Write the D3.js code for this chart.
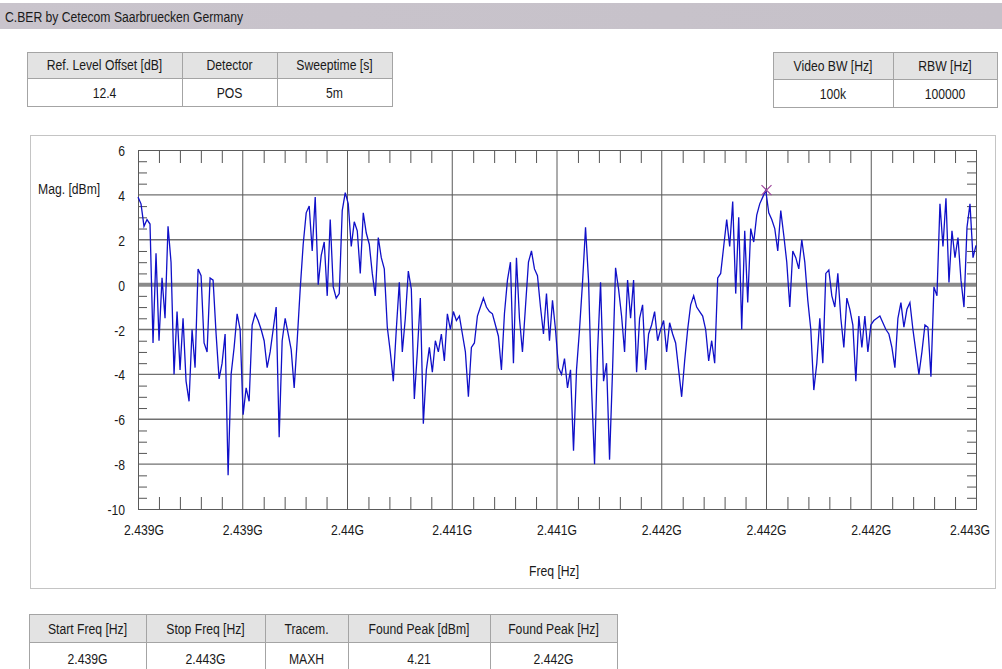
<!DOCTYPE html>
<html><head><meta charset="utf-8">
<script src="https://cdn.jsdelivr.net/npm/d3@7"></script>
<style>
html,body{margin:0;padding:0;background:#fff;}
svg{display:block;}
text{font-family:"Liberation Sans",Arial,sans-serif;fill:#1a1a1a;}
</style></head>
<body>
<svg id="c" width="1002" height="669"></svg>
<script>
// ---------------- data ----------------
const title = "C.BER by Cetecom Saarbruecken Germany";
const topLeftHeaders = ["Ref. Level Offset [dB]", "Detector", "Sweeptime [s]"];
const topLeftValues = ["12.4", "POS", "5m"];
const topRightHeaders = ["Video BW [Hz]", "RBW [Hz]"];
const topRightValues = ["100k", "100000"];
const bottomHeaders = ["Start Freq [Hz]", "Stop Freq [Hz]", "Tracem.", "Found Peak [dBm]", "Found Peak [Hz]"];
const bottomValues = ["2.439G", "2.443G", "MAXH", "4.21", "2.442G"];

const freqStartMHz = 2439;
const freqStopMHz = 2443;
const xTickValuesMHz = [2439, 2439.5, 2440, 2440.5, 2441, 2441.5, 2442, 2442.5, 2443];
const xTickLabels = ["2.439G", "2.439G", "2.44G", "2.441G", "2.441G", "2.442G", "2.442G", "2.442G", "2.443G"];
const yTickValues = [6, 4, 2, 0, -2, -4, -6, -8, -10];
const yTickLabels = ["6", "4", "2", "0", "-2", "-4", "-6", "-8", "-10"];
const yAxisTitle = "Mag. [dBm]";
const xAxisTitle = "Freq [Hz]";
const peakFreqMHz = 2442.0;
const peakMag = 4.21;

// trace magnitude (dBm), equally spaced from start to stop frequency
const traceMag = [
 3.9, 3.6, 2.6, 2.9, 2.7, -2.6, 1.4, -2.5, 0.3, -1.5,
 2.6, 1.0, -4.0, -1.2, -3.8, -1.5, -4.3, -5.2, -2.0, -3.7,
 0.7, 0.4, -2.6, -3.0, 0.3, 0.2, -2.2, -4.2, -3.5, -2.2,
 -8.5, -4.0, -2.8, -1.3, -2.0, -5.8, -4.6, -5.2, -1.8, -1.3,
 -1.6, -2.0, -2.5, -3.7, -3.0, -2.0, -1.0, -6.8, -2.5, -1.5,
 -2.2, -2.9, -4.6, -2.5, -0.2, 1.8, 3.2, 3.5, 1.5, 3.9,
 0.0, 1.3, 1.9, -0.5, 2.9, -0.1, -0.6, -0.4, 3.3, 4.1,
 3.6, 1.7, 2.8, 2.4, 0.5, 3.2, 2.3, 1.8, 0.5, -0.5,
 2.1, 1.2, 0.7, -1.9, -3.0, -4.3, -2.0, 0.1, -3.0, -1.5,
 0.6, -0.2, -5.1, -3.0, -0.6, -6.2, -3.8, -2.8, -3.9, -2.5,
 -3.0, -2.2, -3.4, -1.3, -2.0, -1.2, -1.6, -1.4, -2.2, -3.0,
 -5.0, -2.8, -2.6, -1.4, -1.0, -0.6, -1.0, -1.2, -1.3, -1.8,
 -2.3, -3.8, -1.3, 0.2, 1.0, -3.5, 1.2, -1.5, -3.0, -1.0,
 1.0, 1.5, 0.7, 0.4, -1.0, -2.2, -0.4, -2.5, -0.7, -2.0,
 -3.7, -4.0, -3.3, -4.6, -3.8, -7.4, -3.8, -2.0, 0.1, 2.55,
 0.2, -4.6, -8.0, -3.0, 0.1, -4.3, -3.5, -7.8, -3.8, 0.75,
 -0.2, -1.4, -3.0, 0.2, -1.5, 0.2, -3.9, -1.5, -0.9, -3.8,
 -2.2, -1.8, -1.2, -2.5, -2.0, -1.6, -3.0, -1.7, -2.2, -2.6,
 -3.8, -5.0, -3.4, -2.0, -0.9, -0.5, -1.0, -1.2, -1.4, -2.0,
 -3.4, -2.5, -3.5, 0.3, 0.5, 1.7, 2.9, 1.7, 3.7, -0.4,
 3.0, -2.0, 2.4, -0.8, 2.5, 1.9, 3.1, 3.6, 3.9, 4.21,
 3.2, 2.9, 2.5, 1.5, 3.3, 2.2, 1.0, -1.0, 1.5, 1.2,
 0.7, 2.0, 1.0, -0.7, -2.0, -4.7, -3.5, -1.5, -3.5, 0.5,
 0.65, -0.5, -1.0, 0.5, -1.5, -2.8, -0.6, -1.1, -1.8, -4.3,
 -1.4, -2.8, -1.4, -3.0, -1.8, -1.6, -1.5, -1.4, -1.7, -2.0,
 -2.2, -2.8, -3.7, -1.5, -0.8, -1.9, -1.1, -0.8, -2.0, -3.0,
 -4.0, -3.0, -1.8, -1.9, -4.1, -0.1, -0.5, 3.6, 1.7, 3.85,
 0.1, 2.4, 1.2, 2.1, 0.2, -1.0, 2.55, 3.6, 1.2, 1.75
];

// ---------------- drawing ----------------
const SX = 0.87; // horizontal squeeze of the original typeface
const svg = d3.select("#c");

function txt(g, x, y, s, anchor, size) {
  return g.append("text")
    .attr("transform", `translate(${x},${y}) scale(${SX},1)`)
    .attr("text-anchor", anchor || "middle")
    .style("font-size", (size || 14) + "px")
    .text(s);
}

// header bar
const grad = svg.append("defs").append("linearGradient").attr("id", "bar").attr("x1", 0).attr("x2", 1);
grad.append("stop").attr("offset", 0).attr("stop-color", "#c9c4cc");
grad.append("stop").attr("offset", 1).attr("stop-color", "#c6c1c9");
svg.append("rect").attr("x", 0).attr("y", 3).attr("width", 1002).attr("height", 26).attr("fill", "url(#bar)");
txt(svg, 5, 22, title, "start");

// tables
function table(edges, rows, headers, values) {
  const g = svg.append("g");
  headers.forEach((h, i) => {
    const x0 = edges[i], x1 = edges[i + 1];
    g.append("rect").attr("x", x0 + 0.5).attr("y", rows[0] + 0.5).attr("width", x1 - x0).attr("height", rows[1] - rows[0])
      .attr("fill", "#e3e3e3").attr("stroke", "#a4a4a4");
    g.append("rect").attr("x", x0 + 0.5).attr("y", rows[1] + 0.5).attr("width", x1 - x0).attr("height", rows[2] - rows[1])
      .attr("fill", "#fff").attr("stroke", "#a4a4a4");
    const cx = (x0 + x1) / 2;
    txt(g, cx, rows[1] - 8, h);
    txt(g, cx, rows[2] - 8, values[i]);
  });
}
table([27, 182, 277, 392], [52, 78, 106], topLeftHeaders, topLeftValues);
table([773, 893, 997], [52, 79, 107], topRightHeaders, topRightValues);
table([29, 146, 265, 348, 490, 617], [614, 642, 672], bottomHeaders, bottomValues);

// chart panel
svg.append("rect").attr("x", 30.5).attr("y", 135.5).attr("width", 965).attr("height", 453)
  .attr("fill", "#fff").attr("stroke", "#c4c4c4");

const L = 138, R = 976, T = 150, B = 509;
const x = d3.scaleLinear().domain([freqStartMHz, freqStopMHz]).range([L, R]);
const y = d3.scaleLinear().domain([-10, 6]).range([B, T]);
const plot = svg.append("g");

// horizontal grid
plot.selectAll("line.hg").data(yTickValues.filter(v => v !== 0 && v !== 6 && v !== -10)).join("line")
  .attr("x1", L).attr("x2", R).attr("y1", d => y(d)).attr("y2", d => y(d))
  .attr("stroke", "#707070").attr("stroke-width", 1.4);
// vertical grid
plot.selectAll("line.vg").data(xTickValuesMHz.slice(1, -1)).join("line")
  .attr("x1", d => x(d)).attr("x2", d => x(d)).attr("y1", T).attr("y2", B)
  .attr("stroke", "#5a5a5a").attr("stroke-width", 1);
// zero line
plot.append("line").attr("x1", L).attr("x2", R).attr("y1", y(0)).attr("y2", y(0))
  .attr("stroke", "#8a8a8a").attr("stroke-width", 4);

// minor ticks
const xMinor = [];
for (let i = 0; i < xTickValuesMHz.length - 1; i++)
  for (let k = 1; k < 5; k++) xMinor.push(xTickValuesMHz[i] + k * (xTickValuesMHz[i + 1] - xTickValuesMHz[i]) / 5);
const yMinor = [];
for (let i = 0; i < yTickValues.length - 1; i++)
  for (let k = 1; k < 4; k++) yMinor.push(yTickValues[i] + k * (yTickValues[i + 1] - yTickValues[i]) / 4);

plot.append("g").attr("transform", `translate(0,${T})`)
  .call(d3.axisBottom(x).tickValues(xMinor).tickSize(13).tickFormat(""))
  .call(g => g.select(".domain").remove()).selectAll("line").attr("stroke", "#555");
plot.append("g").attr("transform", `translate(0,${B})`)
  .call(d3.axisTop(x).tickValues(xMinor).tickSize(12).tickFormat(""))
  .call(g => g.select(".domain").remove()).selectAll("line").attr("stroke", "#555");
plot.append("g").attr("transform", `translate(${L},0)`)
  .call(d3.axisRight(y).tickValues(yMinor).tickSize(9).tickFormat(""))
  .call(g => g.select(".domain").remove()).selectAll("line").attr("stroke", "#555");
plot.append("g").attr("transform", `translate(${R},0)`)
  .call(d3.axisLeft(y).tickValues(yMinor).tickSize(9).tickFormat(""))
  .call(g => g.select(".domain").remove()).selectAll("line").attr("stroke", "#555");

// frame
plot.append("rect").attr("x", L + 0.5).attr("y", T + 0.5).attr("width", R - L).attr("height", B - T)
  .attr("fill", "none").attr("stroke", "#5a5a5a").attr("stroke-width", 1);

// trace
const step = (freqStopMHz - freqStartMHz) / (traceMag.length - 1);
const line = d3.line().x((d, i) => x(freqStartMHz + i * step)).y(d => y(d));
plot.append("path").datum(traceMag).attr("d", line)
  .attr("fill", "none").attr("stroke", "#1010c8").attr("stroke-width", 1.3).attr("stroke-linejoin", "miter");

// peak marker
const px = x(peakFreqMHz), py = y(peakMag);
plot.append("path").attr("d", `M${px - 5},${py - 5}L${px + 5},${py + 5}M${px - 5},${py + 5}L${px + 5},${py - 5}`)
  .attr("stroke", "#a0489c").attr("stroke-width", 1.2);

// axis labels
xTickValuesMHz.forEach((v, i) => {
  const shift = i === 0 ? 6 : (i === xTickValuesMHz.length - 1 ? -6 : 0);
  txt(svg, x(v) + shift, 535, xTickLabels[i]);
});
yTickValues.forEach((v, i) => txt(svg, 125, y(v) + 6, yTickLabels[i], "end"));
txt(svg, 38, 194, yAxisTitle, "start");
txt(svg, 554, 576, xAxisTitle);
</script>
</body></html>
